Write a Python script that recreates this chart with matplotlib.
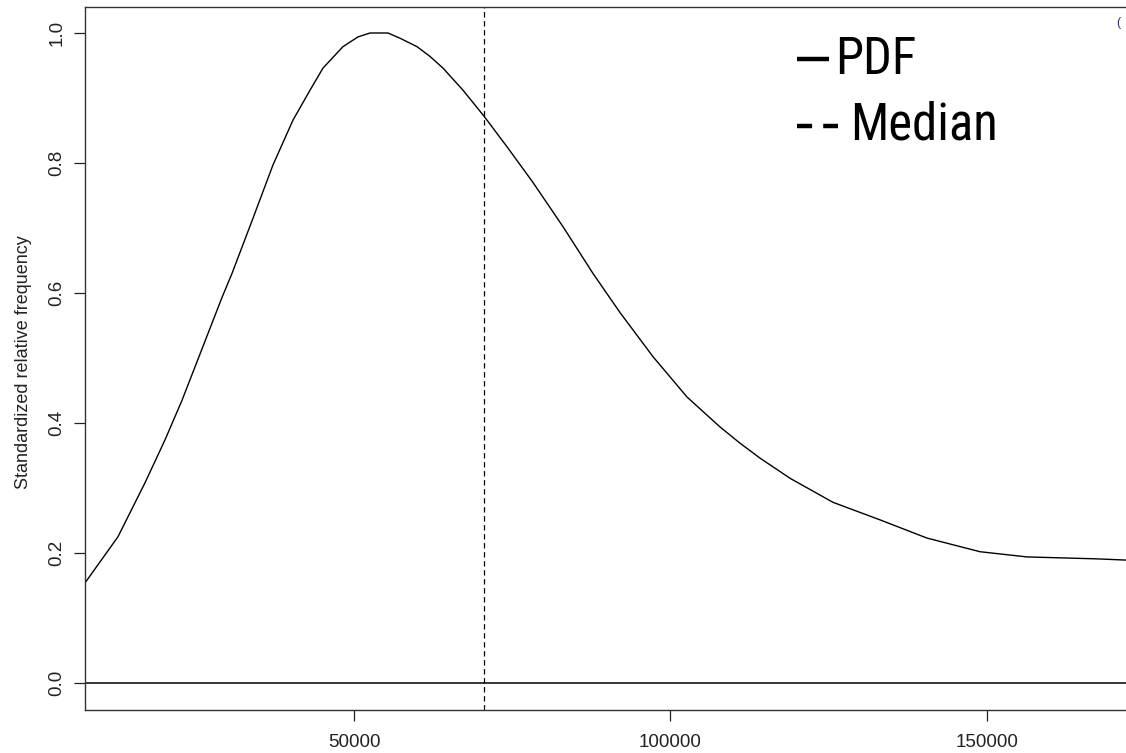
import matplotlib
matplotlib.use("Agg")
import matplotlib.pyplot as plt
from matplotlib.lines import Line2D
import warnings
warnings.filterwarnings("ignore")

plt.rcParams["font.family"] = ["Liberation Sans", "DejaVu Sans"]

# ---- data ----
income = [7500, 12710, 16980, 20140, 22830, 29140, 30720, 34040, 37200, 40360,
          43050, 45100, 48260, 50630, 52530, 53950, 55370, 57260, 59950, 62000,
          64060, 67220, 70540, 74170, 78280, 83020, 87760, 92020, 97240, 102610,
          107820, 110980, 114140, 118880, 125670, 133100, 140520, 148900, 156320,
          167380, 172280]
density = [0.154, 0.225, 0.308, 0.374, 0.435, 0.593, 0.630, 0.715, 0.797, 0.866,
           0.912, 0.946, 0.979, 0.994, 1.000, 1.000, 1.000, 0.992, 0.979, 0.964,
           0.946, 0.912, 0.872, 0.825, 0.770, 0.702, 0.630, 0.570, 0.502, 0.440,
           0.394, 0.369, 0.346, 0.315, 0.278, 0.251, 0.223, 0.202, 0.194,
           0.191, 0.189]
median_value = 70540
x_ticks = [50000, 100000, 150000]
y_ticks = [0.0, 0.2, 0.4, 0.6, 0.8, 1.0]
y_label = "Standardized relative frequency"
legend_labels = ["PDF", "Median"]

W, H = 1126, 753
fig = plt.figure(figsize=(W / 100, H / 100), dpi=100)
fig.patch.set_facecolor("white")

left_px, right_px, top_px, bottom_px = 85, 1128, 7, 710
ax = fig.add_axes([left_px / W, 1 - bottom_px / H,
                   (right_px - left_px) / W, (bottom_px - top_px) / H])

ax.plot(income, density, color="black", lw=1.0, solid_joinstyle="round")
ax.axvline(median_value, color="black", lw=0.9, dashes=(4.3, 2.9))
ax.axhline(0, color="black", lw=1.1)

ax.set_xlim(7502, 172277)
ax.set_ylim(-0.0415, 1.04)
ax.set_xticks(x_ticks)
ax.set_xticklabels([str(v) for v in x_ticks])
ax.set_yticks(y_ticks)
ax.set_yticklabels([f"{v:.1f}" for v in y_ticks], rotation=90, va="center")

ax.tick_params(axis="x", length=8, width=0.9, pad=9.5, labelsize=13.5,
               colors="#222222", direction="out")
ax.tick_params(axis="y", length=8, width=0.9, pad=6, labelsize=13.5,
               colors="#222222", direction="out")
for s in ax.spines.values():
    s.set_color("#333333")
    s.set_linewidth(1.0)

ax.set_ylabel(y_label, fontsize=13, color="#222222", va="center")
ax.yaxis.set_label_coords((24 - left_px) / (right_px - left_px), 0.495)

# ---- legend (no box), drawn in figure pixel space ----
def fx(px):
    return px / W

def fy(py):
    return 1 - py / H

leg_font = ["Roboto Condensed", "Open Sans Condensed", "Liberation Sans Narrow",
            "Liberation Sans"]
fig.add_artist(Line2D([fx(797), fx(829)], [fy(59), fy(59)],
                      color="black", lw=3.2, solid_capstyle="butt"))
fig.text(fx(835), fy(60), legend_labels[0], fontsize=36.5, family=leg_font,
         va="center", ha="left", color="black")
fig.add_artist(Line2D([fx(797), fx(838)], [fy(126), fy(126)],
                      color="black", lw=3.2, dashes=(3.4, 2.5),
                      dash_capstyle="butt"))
fig.text(fx(850), fy(125), legend_labels[1], fontsize=36.5, family=leg_font,
         va="center", ha="left", color="black")

fig.text(fx(1116), fy(23), "(", fontsize=9, color="#333366",
         va="center", ha="left")

fig.savefig("out.png", dpi=100, facecolor="white")
